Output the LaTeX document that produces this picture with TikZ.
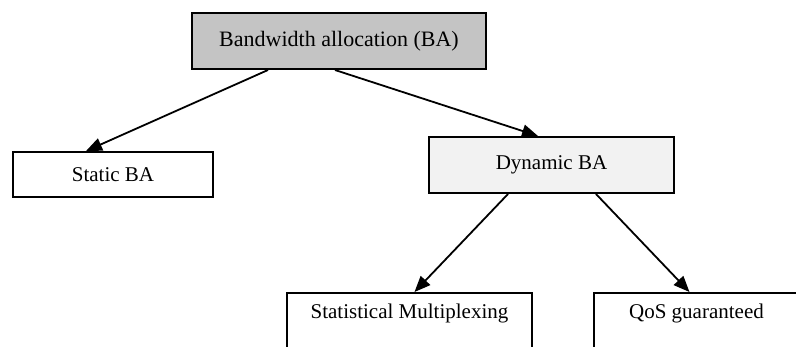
\documentclass[tikz,border=0pt]{standalone}
\usepackage{fontspec}
\setmainfont{Liberation Serif}
\usetikzlibrary{arrows.meta}
\definecolor{topfill}{HTML}{C4C4C4}
\definecolor{dynfill}{HTML}{F2F2F2}
\tikzset{
  box/.style={draw=black, line width=2pt, inner sep=0pt, font=\fontsize{21}{25}\selectfont},
  openbox/.style={box, anchor=north west, text height=25pt, text depth=100pt},
  link/.style={line width=1.8pt, -{Triangle[length=16pt,width=13pt]}}
}
\begin{document}
\begin{tikzpicture}[x=1pt,y=-1pt]
\useasboundingbox (0,0) rectangle (796,346);
\node[box, fill=topfill, minimum width=294pt, minimum height=56pt, font=\fontsize{22}{26}\selectfont] (top) at (339,41) {Bandwidth allocation (BA)};
\node[box, minimum width=200pt, minimum height=45pt] (static) at (113,174.5) {Static BA};
\node[box, fill=dynfill, minimum width=245pt, minimum height=56pt] (dyn) at (551.5,165) {Dynamic BA};
\node[openbox, minimum width=245pt] (stat) at (286,292) {Statistical Multiplexing};
\node[openbox, minimum width=205pt] (qos) at (593,292) {QoS guaranteed};
\draw[link] ([xshift=-71pt]top.south) -- ([xshift=-27pt]static.north);
\draw[link] ([xshift=-4pt]top.south) -- ([xshift=-13.5pt]dyn.north);
\draw[link] ([xshift=-43.5pt]dyn.south) -- ([xshift=5pt]stat.north);
\draw[link] ([xshift=44.5pt]dyn.south) -- ([xshift=-7pt]qos.north);
\end{tikzpicture}
\end{document}
